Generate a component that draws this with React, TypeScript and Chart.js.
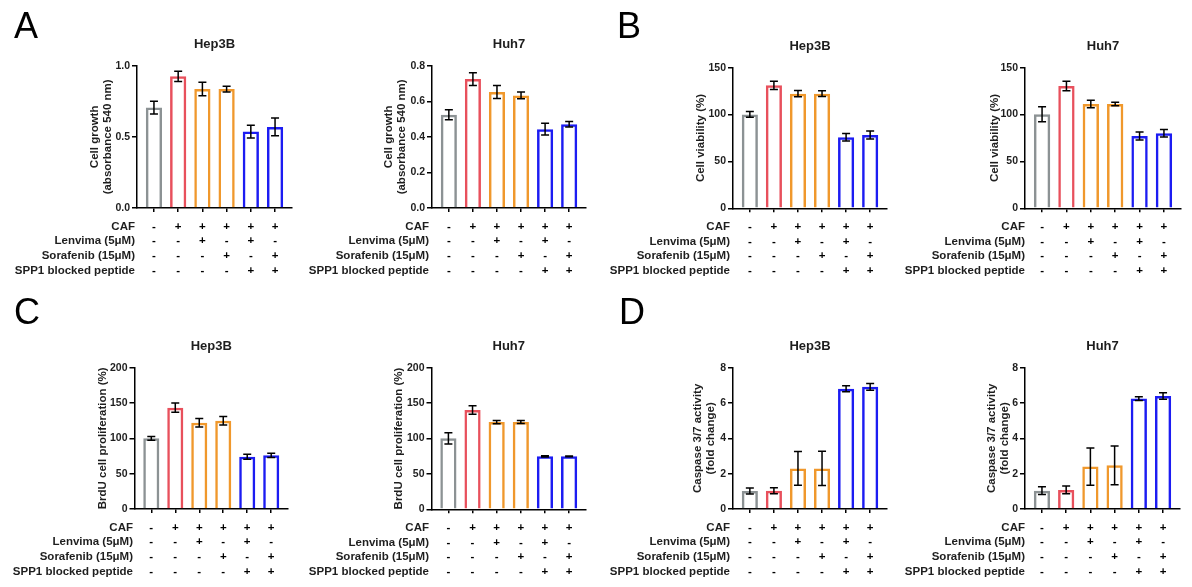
import React, { useEffect, useRef } from 'react';
import { Chart, registerables } from 'chart.js';

Chart.register(...registerables);
Chart.defaults.font.family = '"Liberation Sans", Arial, sans-serif';

// ---- condition table ----
const conditionNames = ['CAF', 'Lenvima (5μM)', 'Sorafenib (15μM)', 'SPP1 blocked peptide'];
const cafSigns = ['-', '+', '+', '+', '+', '+'];
const lenvimaSigns = ['-', '-', '+', '-', '+', '-'];
const sorafenibSigns = ['-', '-', '-', '+', '-', '+'];
const spp1Signs = ['-', '-', '-', '-', '+', '+'];
const signRows = [cafSigns, lenvimaSigns, sorafenibSigns, spp1Signs];

const barColors = ['#8c9294', '#e8505c', '#f0982c', '#f0982c', '#1c1cf2', '#1c1cf2'];

// ---- A: cell growth ----
const growthHep3B = [0.706, 0.925, 0.836, 0.836, 0.537, 0.57];
const growthHep3BErr = [0.045, 0.036, 0.048, 0.02, 0.045, 0.062];
const growthHuh7 = [0.524, 0.725, 0.652, 0.633, 0.443, 0.471];
const growthHuh7Err = [0.028, 0.036, 0.037, 0.019, 0.033, 0.015];
const growthHep3BTicks = [0, 0.5, 1.0];
const growthHuh7Ticks = [0, 0.2, 0.4, 0.6, 0.8];

// ---- B: cell viability ----
const viabilityHep3B = [100.2, 131.2, 122.3, 122.3, 75.7, 78.2];
const viabilityHep3BErr = [3, 4.4, 3.4, 3, 4, 4.4];
const viabilityHuh7 = [100.3, 130.5, 111.3, 111.3, 77.1, 80.0];
const viabilityHuh7Err = [8, 5, 4, 1.8, 4.3, 4];
const viabilityTicks = [0, 50, 100, 150];

// ---- C: BrdU proliferation ----
const brduHep3B = [100, 143.4, 122.2, 125, 74, 76];
const brduHep3BErr = [2.6, 6.6, 6, 6, 3.5, 3];
const brduHuh7 = [100.2, 140.2, 123.3, 123.3, 74.8, 74.8];
const brduHuh7Err = [8, 6, 2.3, 2, 1, 0.6];
const brduTicks = [0, 50, 100, 150, 200];

// ---- D: caspase 3/7 ----
const caspaseHep3B = [1.02, 1.04, 2.3, 2.3, 6.81, 6.92];
const caspaseHep3BErr = [0.17, 0.17, 0.95, 0.97, 0.17, 0.19];
const caspaseHuh7 = [1.04, 1.08, 2.4, 2.47, 6.25, 6.4];
const caspaseHuh7Err = [0.22, 0.22, 1.06, 1.1, 0.1, 0.18];
const caspaseTicks = [0, 2, 4, 6, 8];

type Panel = {
  key: string;
  letter?: string;
  letterX?: number;
  letterY?: number;
  title: string;
  yTitle: string[];
  values: number[];
  errors: number[];
  ticks: number[];
  decimals: number;
  box: { left: number; top: number; width: number; height: number };
  axisX: number;
  xEnd: number;
  yTop: number;
  yZero: number;
  yTitleX: number;
  labelRight: number;
};

const panels: Panel[] = [
  {
    key: 'A1', letter: 'A', letterX: 14, letterY: 38, title: 'Hep3B',
    yTitle: ['Cell growth', '(absorbance 540 nm)'], values: growthHep3B, errors: growthHep3BErr,
    ticks: growthHep3BTicks, decimals: 1,
    box: { left: 0, top: 0, width: 295, height: 290 },
    axisX: 137, xEnd: 292, yTop: 65.7, yZero: 208, yTitleX: 95, labelRight: 135,
  },
  {
    key: 'A2', title: 'Huh7',
    yTitle: ['Cell growth', '(absorbance 540 nm)'], values: growthHuh7, errors: growthHuh7Err,
    ticks: growthHuh7Ticks, decimals: 1,
    box: { left: 295, top: 0, width: 300, height: 290 },
    axisX: 432, xEnd: 586, yTop: 65.7, yZero: 208, yTitleX: 389, labelRight: 429,
  },
  {
    key: 'B1', letter: 'B', letterX: 617, letterY: 38, title: 'Hep3B',
    yTitle: ['Cell viability (%)'], values: viabilityHep3B, errors: viabilityHep3BErr,
    ticks: viabilityTicks, decimals: 0,
    box: { left: 595, top: 0, width: 300, height: 290 },
    axisX: 733, xEnd: 887, yTop: 67.7, yZero: 208.3, yTitleX: 701, labelRight: 730,
  },
  {
    key: 'B2', title: 'Huh7',
    yTitle: ['Cell viability (%)'], values: viabilityHuh7, errors: viabilityHuh7Err,
    ticks: viabilityTicks, decimals: 0,
    box: { left: 895, top: 0, width: 297, height: 290 },
    axisX: 1025, xEnd: 1181, yTop: 67.7, yZero: 208.3, yTitleX: 995, labelRight: 1025,
  },
  {
    key: 'C1', letter: 'C', letterX: 14, letterY: 324, title: 'Hep3B',
    yTitle: ['BrdU cell proliferation (%)'], values: brduHep3B, errors: brduHep3BErr,
    ticks: brduTicks, decimals: 0,
    box: { left: 0, top: 290, width: 295, height: 297 },
    axisX: 134.5, xEnd: 288, yTop: 367.7, yZero: 509, yTitleX: 102.5, labelRight: 133,
  },
  {
    key: 'C2', title: 'Huh7',
    yTitle: ['BrdU cell proliferation (%)'], values: brduHuh7, errors: brduHuh7Err,
    ticks: brduTicks, decimals: 0,
    box: { left: 295, top: 290, width: 300, height: 297 },
    axisX: 431.5, xEnd: 586, yTop: 367.7, yZero: 509.3, yTitleX: 399, labelRight: 429,
  },
  {
    key: 'D1', letter: 'D', letterX: 619, letterY: 324, title: 'Hep3B',
    yTitle: ['Caspase 3/7 activity', '(fold change)'], values: caspaseHep3B, errors: caspaseHep3BErr,
    ticks: caspaseTicks, decimals: 0,
    box: { left: 595, top: 290, width: 300, height: 297 },
    axisX: 733, xEnd: 887, yTop: 367.7, yZero: 509, yTitleX: 698, labelRight: 730,
  },
  {
    key: 'D2', title: 'Huh7',
    yTitle: ['Caspase 3/7 activity', '(fold change)'], values: caspaseHuh7, errors: caspaseHuh7Err,
    ticks: caspaseTicks, decimals: 0,
    box: { left: 895, top: 290, width: 297, height: 297 },
    axisX: 1025, xEnd: 1180, yTop: 367.7, yZero: 509, yTitleX: 992, labelRight: 1025,
  },
];

const FONT = '"Liberation Sans", Arial, sans-serif';
const TEXT = '#1e1e1e';
const titleFontSize = 11.5;
const titleLineHeight = 1.1;

function makeAnnotPlugin(p: Panel) {
  return {
    id: 'annot' + p.key,
    afterDatasetsDraw(chart: any) {
      const { ctx, scales } = chart;
      const x = scales.x;
      const y = scales.y;
      ctx.save();
      ctx.strokeStyle = '#000';
      ctx.lineWidth = 1.5;
      p.values.forEach((v, i) => {
        const cx = x.getPixelForValue(i);
        const hi = y.getPixelForValue(v + p.errors[i]);
        const lo = y.getPixelForValue(v - p.errors[i]);
        ctx.beginPath();
        ctx.moveTo(cx, hi);
        ctx.lineTo(cx, lo);
        ctx.moveTo(cx - 4, hi);
        ctx.lineTo(cx + 4, hi);
        ctx.moveTo(cx - 4, lo);
        ctx.lineTo(cx + 4, lo);
        ctx.stroke();
      });
      ctx.restore();
    },
    afterDraw(chart: any) {
      const { ctx, scales, chartArea } = chart;
      const x = scales.x;
      ctx.save();
      // panel title
      ctx.fillStyle = TEXT;
      ctx.font = `bold 13px ${FONT}`;
      ctx.textAlign = 'center';
      ctx.textBaseline = 'alphabetic';
      const cxTitle = (chartArea.left + chartArea.right) / 2;
      ctx.fillText(p.title, cxTitle, chartArea.top - 22 + 4.7);
      // condition table
      ctx.font = `bold 11.5px ${FONT}`;
      conditionNames.forEach((name, r) => {
        const rowY = chartArea.bottom + 17.7 + 14.6 * r + 4.1;
        ctx.textAlign = 'right';
        ctx.fillStyle = TEXT;
        ctx.fillText(name, p.labelRight - p.box.left, rowY);
        ctx.textAlign = 'center';
        ctx.fillStyle = '#000';
        signRows[r].forEach((s, i) => {
          ctx.fillText(s, x.getPixelForValue(i), rowY);
        });
      });
      // panel letter
      if (p.letter) {
        ctx.font = `36px ${FONT}`;
        ctx.textAlign = 'left';
        ctx.fillStyle = '#000';
        ctx.fillText(p.letter, (p.letterX as number) - p.box.left, (p.letterY as number) - p.box.top);
      }
      ctx.restore();
    },
  };
}

function PanelChart({ p }: { p: Panel }) {
  const ref = useRef<HTMLCanvasElement | null>(null);
  useEffect(() => {
    if (!ref.current) return;
    const lh = titleFontSize * titleLineHeight;
    const yMax = p.ticks[p.ticks.length - 1];
    const chart = new Chart(ref.current, {
      type: 'bar',
      data: {
        datasets: [
          {
            data: p.values.map((v, i) => ({ x: i, y: v })) as any,
            backgroundColor: 'rgba(255,255,255,0)',
            borderColor: barColors,
            borderWidth: 2.5,
            borderSkipped: 'bottom',
            barPercentage: 0.67,
            categoryPercentage: 1,
          },
        ],
      },
      options: {
        animation: false,
        responsive: false,
        maintainAspectRatio: false,
        devicePixelRatio: 1,
        layout: {
          padding: {
            left: 0,
            right: p.box.left + p.box.width - p.xEnd,
            top: p.yTop - p.box.top,
            bottom: 0,
          },
        },
        plugins: {
          legend: { display: false },
          tooltip: { enabled: false },
          title: { display: false },
        },
        scales: {
          x: {
            type: 'linear',
            offset: false,
            min: -0.7,
            max: 5.7,
            afterBuildTicks: (s: any) => {
              s.ticks = p.values.map((_, i) => ({ value: i }));
            },
            afterFit: (s: any) => {
              s.height = p.box.top + p.box.height - p.yZero;
            },
            ticks: { display: false },
            grid: { offset: false, drawOnChartArea: false, drawTicks: true, tickLength: 4, color: '#000', lineWidth: 1.5 },
            border: { display: true, color: '#000', width: 1.5 },
          },
          y: {
            min: 0,
            max: yMax,
            afterBuildTicks: (s: any) => {
              s.ticks = p.ticks.map((v) => ({ value: v }));
            },
            afterFit: (s: any) => {
              s.width = p.axisX - p.box.left;
            },
            ticks: {
              padding: 2,
              color: TEXT,
              font: { size: 10.5, weight: 'bold', family: FONT },
              callback: (v: any) => Number(v).toFixed(p.decimals),
            },
            grid: { drawOnChartArea: false, drawTicks: true, tickLength: 5, color: '#000', lineWidth: 1.5 },
            border: { display: true, color: '#000', width: 1.5 },
            title: {
              display: true,
              text: p.yTitle,
              color: TEXT,
              font: { size: titleFontSize, weight: 'bold', family: FONT, lineHeight: titleLineHeight },
              padding: { top: p.yTitleX - p.box.left - lh / 2, bottom: 0 },
            },
          },
        },
      },
      plugins: [makeAnnotPlugin(p)],
    } as any);
    return () => chart.destroy();
  }, [p]);
  return (
    <canvas
      ref={ref}
      width={p.box.width}
      height={p.box.height}
      style={{
        position: 'absolute',
        left: p.box.left,
        top: p.box.top,
        width: p.box.width,
        height: p.box.height,
      }}
    />
  );
}

export default function App() {
  return (
    <div
      style={{
        position: 'fixed',
        left: 0,
        top: 0,
        width: 1192,
        height: 587,
        background: '#fff',
        overflow: 'hidden',
      }}
    >
      {panels.map((p) => (
        <PanelChart key={p.key} p={p} />
      ))}
    </div>
  );
}
